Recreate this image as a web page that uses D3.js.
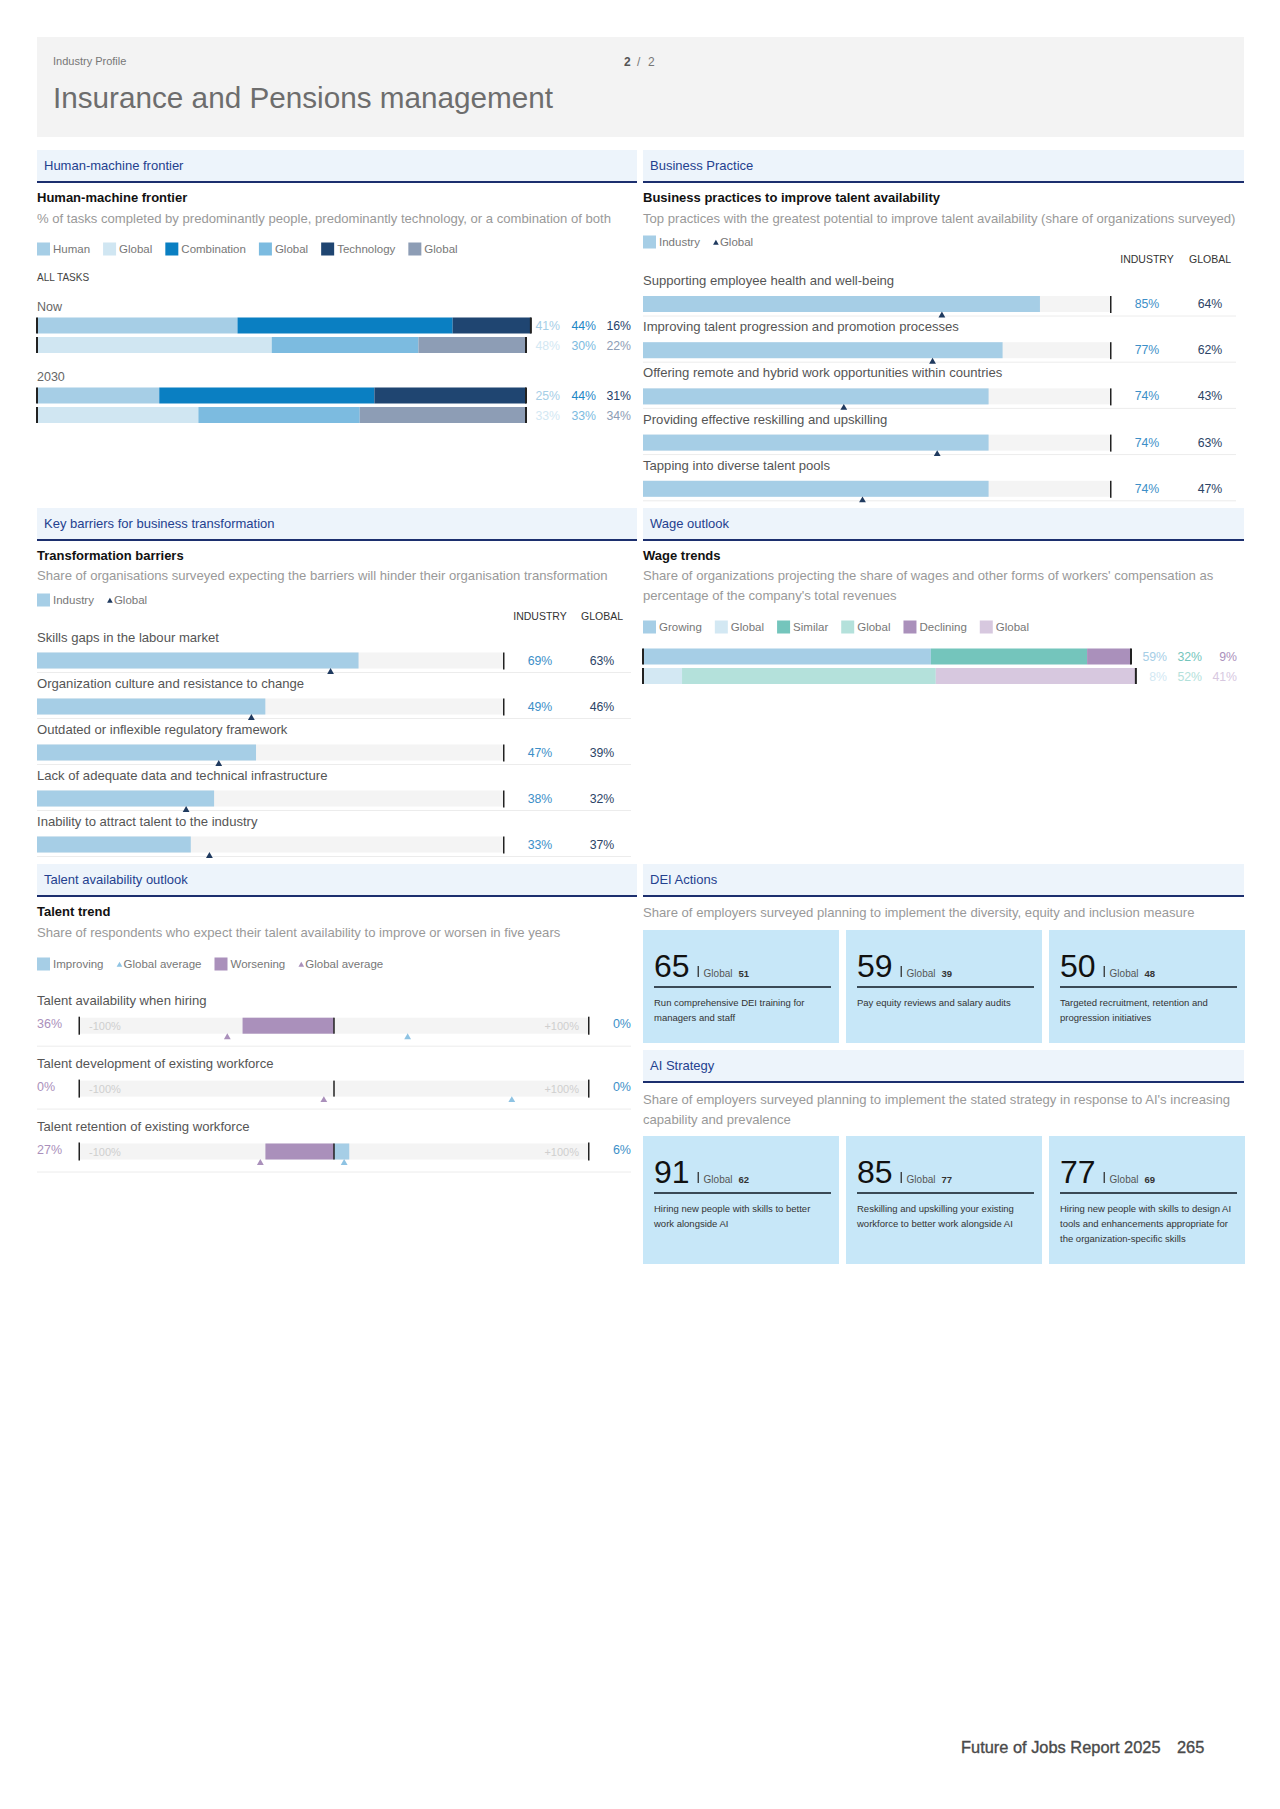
<!DOCTYPE html>
<html>
<head>
<meta charset="utf-8">
<title>Insurance and Pensions management</title>
<script src="https://d3js.org/d3.v7.min.js"></script>
<style>
  body { margin: 0; background: #fff; }
  svg text { font-family: "Liberation Sans", Arial, Helvetica, sans-serif; }
</style>
</head>
<body>
<script>
// ---- data ----
const hmfPeriods = ["Now", "2030"];
const hmfCategories = ["Human", "Combination", "Technology"];
const hmfIndustry = [[41, 44, 16], [25, 44, 31]];
const hmfGlobal = [[48, 30, 22], [33, 33, 34]];

const practiceLabels = [
  "Supporting employee health and well-being",
  "Improving talent progression and promotion processes",
  "Offering remote and hybrid work opportunities within countries",
  "Providing effective reskilling and upskilling",
  "Tapping into diverse talent pools"
];
const practiceIndustry = [85, 77, 74, 74, 74];
const practiceGlobal = [64, 62, 43, 63, 47];

const barrierLabels = [
  "Skills gaps in the labour market",
  "Organization culture and resistance to change",
  "Outdated or inflexible regulatory framework",
  "Lack of adequate data and technical infrastructure",
  "Inability to attract talent to the industry"
];
const barrierIndustry = [69, 49, 47, 38, 33];
const barrierGlobal = [63, 46, 39, 32, 37];

const wageCategories = ["Growing", "Similar", "Declining"];
const wageIndustry = [59, 32, 9];
const wageGlobal = [8, 52, 41];

const talentLabels = [
  "Talent availability when hiring",
  "Talent development of existing workforce",
  "Talent retention of existing workforce"
];
const talentWorsening = [36, 0, 27];
const talentImproving = [0, 0, 6];
const talentGlobalWorsening = [42, 4, 29];
const talentGlobalImproving = [29, 70, 4];

const deiValues = [65, 59, 50];
const deiGlobal = [51, 39, 48];
const deiLabels = [
  "Run comprehensive DEI training for\nmanagers and staff",
  "Pay equity reviews and salary audits",
  "Targeted recruitment, retention and\nprogression initiatives"
];
const aiValues = [91, 85, 77];
const aiGlobal = [62, 77, 69];
const aiLabels = [
  "Hiring new people with skills to better\nwork alongside AI",
  "Reskilling and upskilling your existing\nworkforce to better work alongside AI",
  "Hiring new people with skills to design AI\ntools and enhancements appropriate for\nthe organization-specific skills"
];

// ---- colours ----
const hmfIndColors = ["#a6cee6", "#0a7fc2", "#1f4571"];
const hmfGlobColors = ["#d0e6f2", "#7cbbe0", "#8d9db5"];
const hmfIndText = ["#a6cee6", "#1f87c6", "#1f3f6a"];
const wageIndColors = ["#a6cee6", "#74c5bc", "#aa90bb"];
const wageGlobColors = ["#d3e8f3", "#b4e1db", "#d7c8df"];
const barBlue = "#a6cee6";
const trackGrey = "#f4f4f4";
const navy = "#1f3a5f";
const purple = "#aa90bb";
const descSize = 13.1;

const svg = d3.select("body").append("svg")
    .attr("width", 1280)
    .attr("height", 1809);

function txt(x, y, s, size, fill, opts) {
  const t = svg.append("text").attr("x", x).attr("y", y)
    .attr("font-size", size).attr("fill", fill).text(s);
  if (opts) Object.keys(opts).forEach(k => t.attr(k, opts[k]));
  return t;
}

function band(x, y, w, label) {
  svg.append("rect").attr("x", x).attr("y", y).attr("width", w).attr("height", 31).attr("fill", "#edf4fb");
  svg.append("rect").attr("x", x).attr("y", y + 31).attr("width", w).attr("height", 2).attr("fill", "#1c2f6e");
  txt(x + 7, y + 20, label, 13, "#24418f");
}

function legend(x, cy, items) {
  let cx = x;
  items.forEach(it => {
    if (it.shape === "tri") {
      svg.append("path").attr("d", d3.symbol(d3.symbolTriangle, 14)())
        .attr("transform", `translate(${cx + 3},${cy + 1})`).attr("fill", it.color);
      cx += 7;
    } else {
      svg.append("rect").attr("x", cx).attr("y", cy - 6.5).attr("width", 13).attr("height", 13).attr("fill", it.color);
      cx += 16;
    }
    const t = txt(cx, cy + 4, it.label, 11.5, "#777");
    cx += t.node().getComputedTextLength() + 13;
  });
}

function tri(x, y, color) {
  svg.append("path").attr("d", d3.symbol(d3.symbolTriangle, 20)())
    .attr("transform", `translate(${x},${y})`).attr("fill", color);
}

// ---- page header ----
svg.append("rect").attr("x", 37).attr("y", 37).attr("width", 1207).attr("height", 100).attr("fill", "#f3f3f3");
txt(53, 65, "Industry Profile", 11, "#777");
txt(624, 66, "2", 12, "#555", {"font-weight": "bold"});
txt(637, 66, "/", 12, "#777");
txt(648, 66, "2", 12, "#777");
txt(53, 108, "Insurance and Pensions management", 29.7, "#6d6d6d");

// ---- Human-machine frontier ----
band(37, 150, 600, "Human-machine frontier");
txt(37, 202, "Human-machine frontier", 13, "#111", {"font-weight": "bold"});
txt(37, 223, "% of tasks completed by predominantly people, predominantly technology, or a combination of both", descSize, "#999");
legend(37, 249, [
  {label: "Human", color: hmfIndColors[0]}, {label: "Global", color: hmfGlobColors[0]},
  {label: "Combination", color: hmfIndColors[1]}, {label: "Global", color: hmfGlobColors[1]},
  {label: "Technology", color: hmfIndColors[2]}, {label: "Global", color: hmfGlobColors[2]}
]);
txt(37, 281, "ALL TASKS", 10, "#444");

const hmfX = d3.scaleLinear().domain([0, 100]).range([37, 526]);
const hmfLabelX = [560, 596, 631];
hmfPeriods.forEach((p, i) => {
  const base = 310.5 + i * 70;
  txt(37, base, p, 12.5, "#666");
  [[hmfIndustry[i], hmfIndColors, hmfIndText], [hmfGlobal[i], hmfGlobColors, ["#d3e8f3", "#7cbbe0", "#8d9db5"]]]
    .forEach(([vals, cols, tcols], r) => {
      const y = base + 7 + r * 19.5;
      const ends = d3.cumsum(vals);
      vals.forEach((v, k) => {
        const x0 = hmfX(ends[k] - v);
        svg.append("rect").attr("x", x0).attr("y", y).attr("width", hmfX(ends[k]) - x0)
          .attr("height", 16).attr("fill", cols[k]);
        txt(hmfLabelX[k], y + 12.5, v + "%", 12.3, tcols[k], {"text-anchor": "end"});
      });
      svg.append("rect").attr("x", 36).attr("y", y).attr("width", 2).attr("height", 16).attr("fill", "#222");
      svg.append("rect").attr("x", hmfX(ends[2]) - 1).attr("y", y).attr("width", 2).attr("height", 16).attr("fill", "#222");
    });
});

// ---- horizontal bar list (business practices, barriers) ----
function barList(o) {
  const x = d3.scaleLinear().domain([0, 100]).range([o.x0, o.x1]);
  const y = d3.scaleBand().domain(o.labels).range([o.top, o.top + o.labels.length * o.step]);
  txt(o.colInd, o.top - 7.5, "INDUSTRY", 10.5, "#333", {"text-anchor": "middle"});
  txt(o.colGlob, o.top - 7.5, "GLOBAL", 10.5, "#333", {"text-anchor": "middle"});
  o.labels.forEach((lab, i) => {
    const t = y(lab);
    svg.append("line").attr("x1", o.x0).attr("x2", o.sepEnd).attr("y1", t + 45.5).attr("y2", t + 45.5)
      .attr("stroke", "#ececec").attr("stroke-width", 1);
    svg.append("rect").attr("x", x(0)).attr("y", t + 25.5).attr("width", x(100) - x(0)).attr("height", 16).attr("fill", trackGrey);
    svg.append("rect").attr("x", x(0)).attr("y", t + 25.5).attr("width", x(o.ind[i]) - x(0)).attr("height", 16).attr("fill", barBlue);
    svg.append("rect").attr("x", x(100)).attr("y", t + 25.5).attr("width", 1.5).attr("height", 17).attr("fill", "#222");
    tri(x(o.glob[i]), t + 45, navy);
    txt(o.colInd, t + 37.5, o.ind[i] + "%", 12.3, "#3d8fc8", {"text-anchor": "middle"});
    txt(o.colGlob, t + 37.5, o.glob[i] + "%", 12.3, "#2c4466", {"text-anchor": "middle"});
    txt(o.x0, t + 14.5, lab, 13.1, "#555");
  });
}

// ---- Business practice ----
band(643, 150, 601, "Business Practice");
txt(643, 202, "Business practices to improve talent availability", 13, "#111", {"font-weight": "bold"});
txt(643, 223, "Top practices with the greatest potential to improve talent availability (share of organizations surveyed)", descSize, "#999");
legend(643, 242, [{label: "Industry", color: barBlue}, {label: "Global", color: navy, shape: "tri"}]);
barList({labels: practiceLabels, ind: practiceIndustry, glob: practiceGlobal,
  x0: 643, x1: 1110, top: 270.5, step: 46.2, colInd: 1147, colGlob: 1210, sepEnd: 1236});

// ---- Key barriers ----
band(37, 508, 600, "Key barriers for business transformation");
txt(37, 560, "Transformation barriers", 13, "#111", {"font-weight": "bold"});
txt(37, 580, "Share of organisations surveyed expecting the barriers will hinder their organisation transformation", descSize, "#999");
legend(37, 600, [{label: "Industry", color: barBlue}, {label: "Global", color: navy, shape: "tri"}]);
barList({labels: barrierLabels, ind: barrierIndustry, glob: barrierGlobal,
  x0: 37, x1: 503, top: 627, step: 46, colInd: 540, colGlob: 602, sepEnd: 631});

// ---- Wage outlook ----
band(643, 508, 601, "Wage outlook");
txt(643, 560, "Wage trends", 13, "#111", {"font-weight": "bold"});
txt(643, 580, "Share of organizations projecting the share of wages and other forms of workers' compensation as", descSize, "#999");
txt(643, 600, "percentage of the company's total revenues", descSize, "#999");
legend(643, 627, [
  {label: wageCategories[0], color: wageIndColors[0]}, {label: "Global", color: wageGlobColors[0]},
  {label: wageCategories[1], color: wageIndColors[1]}, {label: "Global", color: wageGlobColors[1]},
  {label: wageCategories[2], color: wageIndColors[2]}, {label: "Global", color: wageGlobColors[2]}
]);
const wageX = d3.scaleLinear().domain([0, 100]).range([643, 1131]);
const wageLabelX = [1167, 1202, 1237];
[[wageIndustry, wageIndColors, ["#a6cee6", "#74c5bc", "#aa90bb"]], [wageGlobal, wageGlobColors, ["#d3e8f3", "#b4e1db", "#d7c8df"]]]
  .forEach(([vals, cols, tcols], r) => {
    const y = 648.5 + r * 19.5;
    const ends = d3.cumsum(vals);
    vals.forEach((v, k) => {
      const x0 = wageX(ends[k] - v);
      svg.append("rect").attr("x", x0).attr("y", y).attr("width", wageX(ends[k]) - x0)
        .attr("height", 16).attr("fill", cols[k]);
      txt(wageLabelX[k], y + 12.5, v + "%", 12.3, tcols[k], {"text-anchor": "end"});
    });
    svg.append("rect").attr("x", 642).attr("y", y).attr("width", 2).attr("height", 16).attr("fill", "#222");
    svg.append("rect").attr("x", wageX(ends[2]) - 1).attr("y", y).attr("width", 2).attr("height", 16).attr("fill", "#222");
  });

// ---- Talent availability outlook ----
band(37, 864, 600, "Talent availability outlook");
txt(37, 916, "Talent trend", 13, "#111", {"font-weight": "bold"});
txt(37, 937, "Share of respondents who expect their talent availability to improve or worsen in five years", descSize, "#999");
legend(37, 964, [
  {label: "Improving", color: barBlue}, {label: "Global average", color: "#8ec3e3", shape: "tri"},
  {label: "Worsening", color: purple}, {label: "Global average", color: purple, shape: "tri"}
]);
const tX = d3.scaleLinear().domain([-100, 100]).range([80, 588]);
const tY = d3.scaleBand().domain(talentLabels).range([990.7, 990.7 + 3 * 62.9]);
talentLabels.forEach((lab, i) => {
  const t = tY(lab);
  const by = t + 27;
  txt(37, t + 14.5, lab, 13.1, "#555");
  svg.append("line").attr("x1", 37).attr("x2", 631).attr("y1", t + 55.5).attr("y2", t + 55.5)
    .attr("stroke", "#ececec");
  svg.append("rect").attr("x", tX(-100)).attr("y", by).attr("width", tX(100) - tX(-100)).attr("height", 16).attr("fill", trackGrey);
  txt(tX(-100) + 9, by + 12, "-100%", 11, "#cfcfcf");
  txt(tX(100) - 9, by + 12, "+100%", 11, "#cfcfcf", {"text-anchor": "end"});
  svg.append("rect").attr("x", tX(-talentWorsening[i])).attr("y", by)
    .attr("width", tX(0) - tX(-talentWorsening[i])).attr("height", 16).attr("fill", purple);
  svg.append("rect").attr("x", tX(0)).attr("y", by)
    .attr("width", tX(talentImproving[i]) - tX(0)).attr("height", 16).attr("fill", barBlue);
  svg.append("rect").attr("x", tX(0) - 0.75).attr("y", by).attr("width", 1.5).attr("height", 16).attr("fill", "#222");
  svg.append("rect").attr("x", tX(-100) - 1.5).attr("y", by - 1).attr("width", 1.5).attr("height", 18).attr("fill", "#222");
  svg.append("rect").attr("x", tX(100)).attr("y", by - 1).attr("width", 1.5).attr("height", 18).attr("fill", "#222");
  tri(tX(-talentGlobalWorsening[i]), by + 19.5, purple);
  tri(tX(talentGlobalImproving[i]), by + 19.5, "#8ec3e3");
  txt(37, by + 10, talentWorsening[i] + "%", 12.5, purple);
  txt(631, by + 10, talentImproving[i] + "%", 12.5, "#3d8fc8", {"text-anchor": "end"});
});

// ---- cards (DEI, AI strategy) ----
function cards(top, h, values, globals, descs) {
  const x = d3.scaleBand().domain(d3.range(values.length)).range([643, 1245]).paddingInner(7 / 203);
  values.forEach((v, i) => {
    const cx = x(i);
    svg.append("rect").attr("x", cx).attr("y", top).attr("width", x.bandwidth()).attr("height", h).attr("fill", "#c7e7f8");
    const num = txt(cx + 11, top + 47, v, 32, "#111");
    const nx = cx + 11 + num.node().getComputedTextLength() + 8;
    svg.append("rect").attr("x", nx).attr("y", top + 36).attr("width", 1.3).attr("height", 11).attr("fill", "#333");
    const g = txt(nx + 6, top + 47, "Global", 10, "#555");
    txt(nx + 6 + g.node().getComputedTextLength() + 6, top + 47, globals[i], 9.5, "#333", {"font-weight": "bold"});
    svg.append("rect").attr("x", cx + 11).attr("y", top + 56).attr("width", x.bandwidth() - 19).attr("height", 2).attr("fill", "#3a4a56");
    descs[i].split("\n").forEach((line, k) => {
      txt(cx + 11, top + 76 + k * 15, line, 9.5, "#333");
    });
  });
}

band(643, 864, 601, "DEI Actions");
txt(643, 917, "Share of employers surveyed planning to implement the diversity, equity and inclusion measure", descSize, "#999");
cards(930, 113, deiValues, deiGlobal, deiLabels);

band(643, 1050, 601, "AI Strategy");
txt(643, 1104, "Share of employers surveyed planning to implement the stated strategy in response to AI's increasing", descSize, "#999");
txt(643, 1124, "capability and prevalence", descSize, "#999");
cards(1136, 128, aiValues, aiGlobal, aiLabels);

// ---- footer ----
txt(961, 1753, "Future of Jobs Report 2025", 16.4, "#4a4a4a", {"stroke": "#4a4a4a", "stroke-width": 0.35});
txt(1177, 1753, "265", 16.4, "#4a4a4a", {"stroke": "#4a4a4a", "stroke-width": 0.35});
</script>
</body>
</html>
